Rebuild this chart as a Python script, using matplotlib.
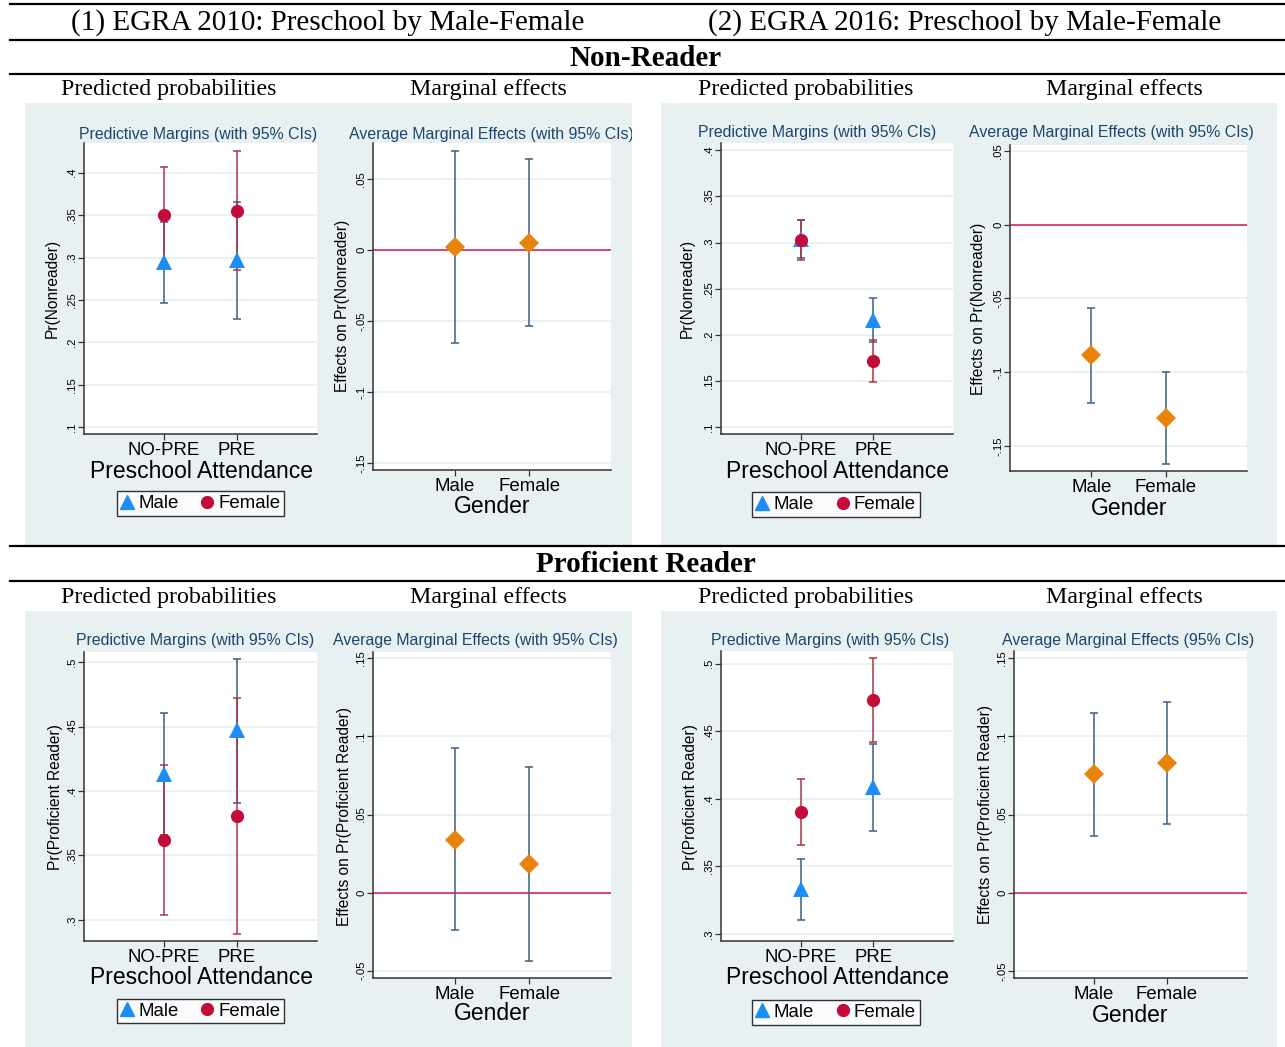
import matplotlib
matplotlib.use('Agg')
import numpy as np
import matplotlib.pyplot as plt
from matplotlib.patches import Rectangle
from matplotlib.lines import Line2D

W, H = 1285, 1047

# categories
groups = ['NO-PRE', 'PRE']
genders = ['Male', 'Female']

# Non-reader, EGRA 2010: predicted probabilities (point, lower, upper)
nr10_male = [0.295, 0.297]
nr10_male_lo = [0.246, 0.228]
nr10_male_hi = [0.342, 0.365]
nr10_female = [0.350, 0.355]
nr10_female_lo = [0.293, 0.285]
nr10_female_hi = [0.407, 0.425]
# Non-reader, EGRA 2010: average marginal effects by gender
nr10_ame = [0.0024, 0.0052]
nr10_ame_lo = [-0.0651, -0.0536]
nr10_ame_hi = [0.0697, 0.0639]

# Non-reader, EGRA 2016
nr16_male = [0.304, 0.216]
nr16_male_lo = [0.283, 0.192]
nr16_male_hi = [0.325, 0.240]
nr16_female = [0.303, 0.172]
nr16_female_lo = [0.281, 0.149]
nr16_female_hi = [0.325, 0.194]
nr16_ame = [-0.0887, -0.1309]
nr16_ame_lo = [-0.121, -0.1622]
nr16_ame_hi = [-0.0564, -0.0999]

# Proficient reader, EGRA 2010
pr10_male = [0.413, 0.447]
pr10_male_lo = [0.366, 0.391]
pr10_male_hi = [0.4605, 0.5023]
pr10_female = [0.362, 0.381]
pr10_female_lo = [0.304, 0.289]
pr10_female_hi = [0.420, 0.472]
pr10_ame = [0.034, 0.0182]
pr10_ame_lo = [-0.0241, -0.0436]
pr10_ame_hi = [0.0925, 0.0805]

# Proficient reader, EGRA 2016
pr16_male = [0.333, 0.409]
pr16_male_lo = [0.310, 0.376]
pr16_male_hi = [0.3555, 0.4405]
pr16_female = [0.390, 0.473]
pr16_female_lo = [0.366, 0.442]
pr16_female_hi = [0.4146, 0.504]
pr16_ame = [0.0757, 0.083]
pr16_ame_lo = [0.0362, 0.0439]
pr16_ame_hi = [0.1152, 0.1222]

# colours (Stata s2color look)
bg = '#e9f0f2'
navy = '#1a476f'
male_c = '#1b8df5'
female_c = '#c40c3b'
male_ci = '#3a5f86'
female_ci = '#b03345'
diam_c = '#e8830c'
zero_c = '#d8295a'
grid_c = '#e6eff0'

sans = 'Liberation Sans'
serif = 'Liberation Serif'

fig = plt.figure(figsize=(W / 100, H / 100), dpi=100)
fig.patch.set_facecolor('white')


def fx(x):
    return x / W


def fy(y):
    return 1 - y / H


def hline(y, x0=10, x1=1285, lw=1.6):
    fig.add_artist(Line2D([fx(x0), fx(x1)], [fy(y), fy(y)], transform=fig.transFigure,
                          color='black', lw=lw))


def region(x0, y0, x1, y1):
    r = Rectangle((fx(x0), fy(y1)), (x1 - x0) / W, (y1 - y0) / H, transform=fig.transFigure,
                  facecolor=bg, edgecolor='none', zorder=-1)
    fig.add_artist(r)
    return r


def ftext(x, y, s, **kw):
    return fig.text(fx(x), fy(y), s, ha=kw.pop('ha', 'center'), va=kw.pop('va', 'center'), **kw)


def fmt_tick(v):
    if abs(v) < 1e-9:
        return '0'
    s = ('%.2f' % v).rstrip('0')
    return s.replace('0.', '.')


def make_axes(box, ylim, yticks):
    x0, y0, x1, y1 = box
    ax = fig.add_axes([fx(x0), fy(y1), (x1 - x0) / W, (y1 - y0) / H])
    ax.set_facecolor('white')
    ax.set_xlim(-1.1, 2.1)
    ax.set_ylim(*ylim)
    ax.set_yticks(yticks)
    ax.set_yticklabels([fmt_tick(t) for t in yticks], rotation=90, va='center',
                       fontsize=8.2, family=sans)
    ax.set_xticks([0, 1])
    for s in ['top', 'right']:
        ax.spines[s].set_visible(False)
    for s in ['left', 'bottom']:
        ax.spines[s].set_color('#333333')
        ax.spines[s].set_linewidth(1.1)
    ax.tick_params(axis='y', length=4.5, width=0.9, color='#333333', pad=0.5)
    ax.tick_params(axis='x', length=4, width=0.9, color='#333333', pad=1.5)
    ax.yaxis.grid(True, color=grid_c, lw=1.2)
    ax.set_axisbelow(True)
    return ax


def pp_panel(box, ylim, yticks, m, m_lo, m_hi, f, f_lo, f_hi):
    ax = make_axes(box, ylim, yticks)
    x = np.arange(len(groups))
    m, m_lo, m_hi = map(np.array, (m, m_lo, m_hi))
    f, f_lo, f_hi = map(np.array, (f, f_lo, f_hi))
    ax.errorbar(x, m, yerr=[m - m_lo, m_hi - m], fmt='none', ecolor=male_ci,
                elinewidth=1.1, capsize=3, capthick=1.1)
    ax.errorbar(x, f, yerr=[f - f_lo, f_hi - f], fmt='none', ecolor=female_ci,
                elinewidth=1.1, capsize=3, capthick=1.1)
    ax.plot(x, m, '^', color=male_c, markersize=11, markeredgewidth=0)
    ax.plot(x, f, 'o', color=female_c, markersize=9.5, markeredgewidth=0)
    ax.set_xticklabels(groups, fontsize=13.4, family=sans)
    return ax


def me_panel(box, ylim, yticks, v, lo, hi):
    ax = make_axes(box, ylim, yticks)
    x = np.arange(len(genders))
    v, lo, hi = map(np.array, (v, lo, hi))
    ax.axhline(0, color=zero_c, lw=1.2)
    ax.errorbar(x, v, yerr=[v - lo, hi - v], fmt='none', ecolor=male_ci,
                elinewidth=1.1, capsize=3, capthick=1.1)
    ax.plot(x, v, 'D', color=diam_c, markersize=10, markeredgewidth=0)
    ax.set_xticklabels(genders, fontsize=13.4, family=sans)
    return ax


def legend_box(cx, cy):
    handles = [Line2D([], [], marker='^', color=male_c, ls='none', markersize=10.5),
               Line2D([], [], marker='o', color=female_c, ls='none', markersize=8.5)]
    lg = fig.legend(handles, genders, loc='center', bbox_to_anchor=(fx(cx), fy(cy)),
                    ncol=2, frameon=True, fancybox=False, handlelength=0.7,
                    handletextpad=0.25, columnspacing=1.2, borderpad=0.2,
                    borderaxespad=0, prop={'family': sans, 'size': 13.4})
    lg.get_frame().set_edgecolor('black')
    lg.get_frame().set_linewidth(1.0)


# header lines and headings
for yy in [4, 40, 74, 546, 581]:
    hline(yy)
ftext(328, 23, '(1) EGRA 2010: Preschool by Male-Female', family=serif, fontsize=21)
ftext(964.5, 23, '(2) EGRA 2016: Preschool by Male-Female', family=serif, fontsize=21)
ftext(646, 59, 'Non-Reader', family=serif, fontsize=21, fontweight='bold')
ftext(646, 565, 'Proficient Reader', family=serif, fontsize=21, fontweight='bold')
for yy in [90, 597]:
    for xx, s in [(169, 'Predicted probabilities'), (488, 'Marginal effects'),
                  (806, 'Predicted probabilities'), (1124, 'Marginal effects')]:
        ftext(xx, yy, s, family=serif, fontsize=17.2)

# graph regions
r_nr10 = region(25, 103, 632, 545)
r_nr16 = region(661, 103, 1277, 545)
r_pr10 = region(25, 611, 632, 1047)
r_pr16 = region(661, 611, 1277, 1047)

pp_ticks = [0.1, 0.15, 0.2, 0.25, 0.3, 0.35, 0.4]
nr_me_ticks = [-0.15, -0.1, -0.05, 0, 0.05]
pr_pp_ticks = [0.3, 0.35, 0.4, 0.45, 0.5]
pr_me_ticks = [-0.05, 0, 0.05, 0.1, 0.15]

# Non-reader row
pp_panel((84, 143, 317, 434), (0.092, 0.435), pp_ticks,
         nr10_male, nr10_male_lo, nr10_male_hi, nr10_female, nr10_female_lo, nr10_female_hi)
me_panel((373, 143, 611, 470), (-0.1547, 0.0753), nr_me_ticks, nr10_ame, nr10_ame_lo, nr10_ame_hi)
pp_panel((721, 143, 953, 434), (0.0924, 0.408), pp_ticks,
         nr16_male, nr16_male_lo, nr16_male_hi, nr16_female, nr16_female_lo, nr16_female_hi)
me_panel((1010, 145, 1247, 471), (-0.167, 0.0539), nr_me_ticks, nr16_ame, nr16_ame_lo, nr16_ame_hi)

# Proficient reader row
pp_panel((84, 652, 317, 941), (0.2837, 0.5078), pr_pp_ticks,
         pr10_male, pr10_male_lo, pr10_male_hi, pr10_female, pr10_female_lo, pr10_female_hi)
me_panel((373, 652, 611, 978), (-0.0547, 0.1541), pr_me_ticks, pr10_ame, pr10_ame_lo, pr10_ame_hi)
pp_panel((721, 651, 953, 941), (0.2948, 0.5094), pr_pp_ticks,
         pr16_male, pr16_male_lo, pr16_male_hi, pr16_female, pr16_female_lo, pr16_female_hi)
me_panel((1014, 651, 1247, 978), (-0.0546, 0.1547), pr_me_ticks, pr16_ame, pr16_ame_lo, pr16_ame_hi)

# panel titles
ttl = dict(family=sans, fontsize=11.4, color=navy)
ftext(198.5, 134, 'Predictive Margins (with 95% CIs)', **ttl)
t = ftext(349, 134, 'Average Marginal Effects (with 95% CIs)', ha='left', **ttl)
t.set_clip_path(r_nr10)
ftext(817.5, 133, 'Predictive Margins (with 95% CIs)', **ttl)
ftext(1111.5, 133, 'Average Marginal Effects (with 95% CIs)', **ttl)
ftext(195, 641, 'Predictive Margins (with 95% CIs)', **ttl)
ftext(475.5, 641, 'Average Marginal Effects (with 95% CIs)', **ttl)
ftext(830, 640, 'Predictive Margins (with 95% CIs)', **ttl)
ftext(1128, 640, 'Average Marginal Effects (95% CIs)', **ttl)

# y-axis titles
yl = dict(family=sans, fontsize=11.2, rotation=90)
ftext(52, 288, 'Pr(Nonreader)', **yl)
ftext(343, 306, 'Effects on Pr(Nonreader)', **yl)
ftext(687, 288.5, 'Pr(Nonreader)', **yl)
ftext(979, 308.5, 'Effects on Pr(Nonreader)', **yl)
ftext(56, 797, 'Pr(Proficient Reader)', **yl)
ftext(344, 816, 'Effects on Pr(Proficient Reader)', **yl)
ftext(691, 797, 'Pr(Proficient Reader)', **yl)
ftext(985, 815, 'Effects on Pr(Proficient Reader)', **yl)

# x-axis titles
xl = dict(family=sans, fontsize=16.5)
ftext(201, 471, 'Preschool Attendance', **xl)
ftext(492, 507, 'Gender', **xl)
ftext(837, 471, 'Preschool Attendance', **xl)
ftext(1129, 508, 'Gender', **xl)
ftext(201, 978, 'Preschool Attendance', **xl)
ftext(492, 1014, 'Gender', **xl)
ftext(837, 978, 'Preschool Attendance', **xl)
ftext(1130, 1015, 'Gender', **xl)

# legends
legend_box(200.5, 503.5)
legend_box(836, 504.5)
legend_box(200.5, 1011)
legend_box(836, 1012.5)

fig.savefig('out.png', dpi=100)
